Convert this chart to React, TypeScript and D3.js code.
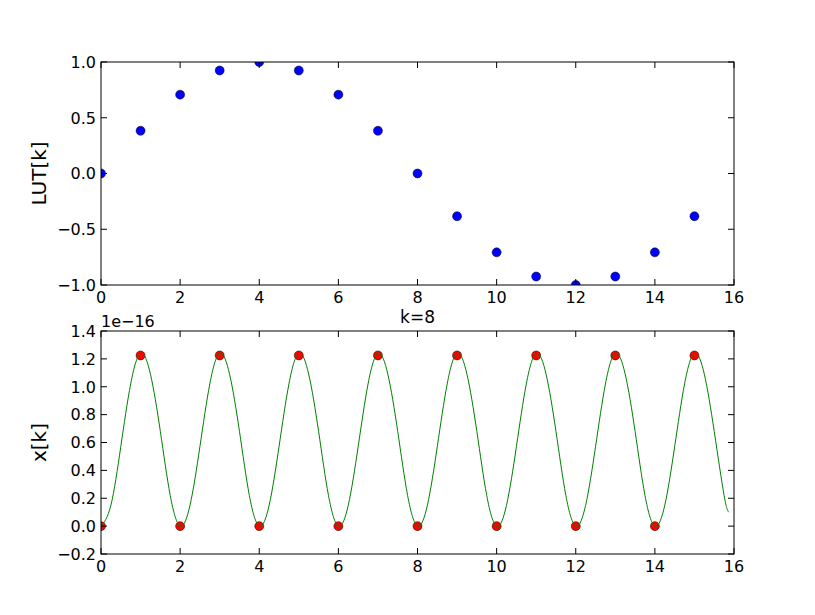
import * as d3 from "d3";

// top panel: lookup table
const kIndex = [0, 1, 2, 3, 4, 5, 6, 7, 8, 9, 10, 11, 12, 13, 14, 15];
const lutValues = [
  0, 0.383, 0.707, 0.924, 1.0, 0.924, 0.707, 0.383, 0, -0.383, -0.707, -0.924,
  -1.0, -0.924, -0.707, -0.383,
];

// bottom panel: samples (units of 1e-16)
const xkValues = [
  0, 1.2246, 0, 1.2246, 0, 1.2246, 0, 1.2246, 0, 1.2246, 0, 1.2246, 0, 1.2246,
  0, 1.2246,
];

// green continuous trace (units of 1e-16)
const curveT = [
  0, 0.25, 0.5, 0.75, 1, 1.25, 1.5, 1.75,
  2, 2.25, 2.5, 2.75, 3, 3.25, 3.5, 3.75,
  4, 4.25, 4.5, 4.75, 5, 5.25, 5.5, 5.75,
  6, 6.25, 6.5, 6.75, 7, 7.25, 7.5, 7.75,
  8, 8.25, 8.5, 8.75, 9, 9.25, 9.5, 9.75,
  10, 10.25, 10.5, 10.75, 11, 11.25, 11.5, 11.75,
  12, 12.25, 12.5, 12.75, 13, 13.25, 13.5, 13.75,
  14, 14.25, 14.5, 14.75, 15, 15.25, 15.5, 15.75,
  15.87,
];
const curveV = [
  0.0, 0.15, 0.57, 1.02, 1.24, 1.09, 0.68, 0.22,
  0.0, 0.15, 0.57, 1.02, 1.24, 1.09, 0.68, 0.22,
  0.0, 0.15, 0.57, 1.02, 1.24, 1.09, 0.68, 0.22,
  0.0, 0.15, 0.57, 1.02, 1.24, 1.09, 0.68, 0.22,
  0.0, 0.15, 0.57, 1.02, 1.24, 1.09, 0.68, 0.22,
  0.0, 0.15, 0.57, 1.02, 1.24, 1.09, 0.68, 0.22,
  0.0, 0.15, 0.57, 1.02, 1.24, 1.09, 0.68, 0.22,
  0.0, 0.15, 0.57, 1.02, 1.24, 1.09, 0.68, 0.22,
  0.1,
];

const xTicks = [0, 2, 4, 6, 8, 10, 12, 14, 16];
const lutTicks = [-1.0, -0.5, 0.0, 0.5, 1.0];
const xkTicks = [-0.2, 0.0, 0.2, 0.4, 0.6, 0.8, 1.0, 1.2, 1.4];

const W = 815;
const H = 615;
const FONT = "DejaVu Sans, sans-serif";
const TICK_FS = 16;
const LABEL_FS = 20;
const TICK_LEN = 6;

const fmt = (v: number) => {
  const s = Math.abs(v).toFixed(1);
  return v < -1e-9 ? "\u2212" + s : s;
};

interface AxesProps {
  id: string;
  top: number;
  bottom: number;
  left: number;
  right: number;
  yDomain: [number, number];
  yTicks: number[];
  ylabel: string;
  children: (x: d3.ScaleLinear<number, number>, y: d3.ScaleLinear<number, number>) => React.ReactNode;
}

function Axes({ id, top, bottom, left, right, yDomain, yTicks, ylabel, children }: AxesProps) {
  const x = d3.scaleLinear().domain([0, 16]).range([left, right]);
  const y = d3.scaleLinear().domain(yDomain).range([bottom, top]);
  return (
    <g>
      <defs>
        <clipPath id={id}>
          <rect x={left} y={top} width={right - left} height={bottom - top} />
        </clipPath>
      </defs>
      <g clipPath={`url(#${id})`}>{children(x, y)}</g>
      <rect
        x={left}
        y={top}
        width={right - left}
        height={bottom - top}
        fill="none"
        stroke="#000"
        strokeWidth={1}
      />
      {xTicks.map((t) => (
        <g key={"x" + t}>
          <line x1={x(t)} x2={x(t)} y1={bottom} y2={bottom - TICK_LEN} stroke="#000" />
          <line x1={x(t)} x2={x(t)} y1={top} y2={top + TICK_LEN} stroke="#000" />
          <text
            x={x(t)}
            y={bottom + 18}
            textAnchor="middle"
            fontSize={TICK_FS}
            fontFamily={FONT}
          >
            {t}
          </text>
        </g>
      ))}
      {yTicks.map((t) => (
        <g key={"y" + t}>
          <line x1={left} x2={left + TICK_LEN} y1={y(t)} y2={y(t)} stroke="#000" />
          <line x1={right} x2={right - TICK_LEN} y1={y(t)} y2={y(t)} stroke="#000" />
          <text
            x={left - 5}
            y={y(t)}
            dy="0.36em"
            textAnchor="end"
            fontSize={TICK_FS}
            fontFamily={FONT}
          >
            {fmt(t)}
          </text>
        </g>
      ))}
      <text
        transform={`translate(46,${(top + bottom) / 2}) rotate(-90)`}
        textAnchor="middle"
        fontSize={LABEL_FS}
        fontFamily={FONT}
      >
        {ylabel}
      </text>
    </g>
  );
}

export default function App() {
  const left = 101;
  const right = 734;

  return (
    <svg
      width={W}
      height={H}
      style={{ position: "absolute", left: 0, top: 0, background: "#fff" }}
    >
      <rect width={W} height={H} fill="#fff" />
      <Axes
        id="clipTop"
        top={62}
        bottom={285}
        left={left}
        right={right}
        yDomain={[-1, 1]}
        yTicks={lutTicks}
        ylabel="LUT[k]"
      >
        {(x, y) =>
          kIndex.map((k, i) => (
            <circle
              key={k}
              cx={x(k)}
              cy={y(lutValues[i])}
              r={4.5}
              fill="#0000ff"
              stroke="#000"
              strokeWidth={0.5}
            />
          ))
        }
      </Axes>

      <text
        x={(left + right) / 2}
        y={323}
        textAnchor="middle"
        fontSize={17}
        fontFamily={FONT}
      >
        k=8
      </text>

      <Axes
        id="clipBottom"
        top={331}
        bottom={554}
        left={left}
        right={right}
        yDomain={[-0.2, 1.4]}
        yTicks={xkTicks}
        ylabel="x[k]"
      >
        {(x, y) => {
          const pts = curveT.map((t, i) => [x(t), y(curveV[i])] as [number, number]);
          const path = d3
            .line<[number, number]>()
            .x((d) => d[0])
            .y((d) => d[1])
            .curve(d3.curveNatural)(pts);
          return (
            <g>
              {kIndex.map((k, i) => (
                <circle
                  key={k}
                  cx={x(k)}
                  cy={y(xkValues[i])}
                  r={4.5}
                  fill="#ff0000"
                  stroke="#000"
                  strokeWidth={0.5}
                />
              ))}
              <path d={path ?? ""} fill="none" stroke="#008000" strokeWidth={1} />
            </g>
          );
        }}
      </Axes>

      <text x={left} y={327} fontSize={TICK_FS} fontFamily={FONT}>
        1e{"\u2212"}16
      </text>
    </svg>
  );
}
